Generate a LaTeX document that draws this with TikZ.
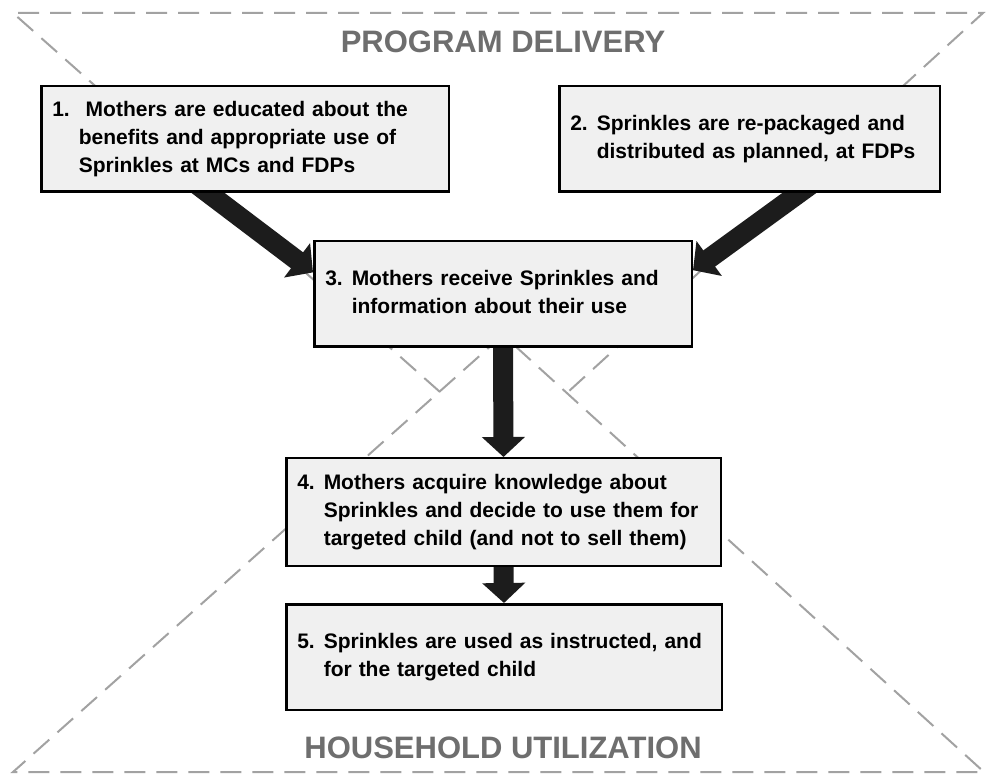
\documentclass[tikz,border=0pt]{standalone}
\usepackage{fontspec}
\setmainfont{Liberation Sans}
\usetikzlibrary{arrows.meta,calc,backgrounds}
\definecolor{boxfill}{HTML}{F0F0F0}
\definecolor{zonegray}{HTML}{A2A2A2}
\definecolor{labelgray}{HTML}{6E6E6E}
\definecolor{arrowblack}{HTML}{1C1C1C}
\newcommand{\steptext}[2]% number, lines
{\begin{tabular}{@{}l@{\hspace{9pt}}l@{}}#1 & #2\end{tabular}}
\tikzset{
	stepbox/.style={draw=black, line width=2.5pt, fill=boxfill, inner xsep=11pt, align=left,
		font=\bfseries\fontsize{21}{28}\selectfont},
	fatarrow/.style={arrowblack, line width=20pt, -{Triangle[width=42pt,length=20pt]}},
	zone/.style={zonegray, line width=2pt, dash pattern=on 21pt off 11pt},
	zonelabel/.style={labelgray, font=\bfseries\fontsize{31}{36}\selectfont}
}

\begin{document}
\begin{tikzpicture}[x=1pt,y=-1pt]
	\useasboundingbox (0,0) rectangle (986,775);
	\node[zonelabel] (pd) at (503,42){PROGRAM DELIVERY};
	\node[zonelabel] (hu) at (503,748){HOUSEHOLD UTILIZATION};
	\node[stepbox, text width=385.5pt, minimum height=105.5pt] (b1) at (245,139)
		{\steptext{1.}{\hspace{7pt}Mothers are educated about the\\ & benefits and appropriate use of\\ & Sprinkles at MCs and FDPs}};%1
	\node[stepbox, text width=358.5pt, minimum height=105.5pt] (b2) at (749.5,139)
		{\steptext{2.}{Sprinkles are re-packaged and\\ & distributed as planned, at FDPs}};%2
	\node[stepbox, text width=355.5pt, minimum height=105.5pt] (b3) at (503,294)
		{\steptext{3.}{Mothers receive Sprinkles and\\ & information about their use}};%3
	\node[stepbox, text width=412.5pt, minimum height=107.5pt] (b4) at (503.5,512)
		{\steptext{4.}{Mothers acquire knowledge about\\ & Sprinkles and decide to use them for\\ & targeted child (and not to sell them)}};%4
	\node[stepbox, text width=413.5pt, minimum height=105.5pt] (b5) at (504,657)
		{\steptext{5.}{Sprinkles are used as instructed, and\\ & for the targeted child}};%5
	\coordinate (s1) at ($(b1.south west)!0.41!(b1.south east)$);
	\coordinate (e1) at ($(b3.north west)!0.30!(b3.south west)$);
	\coordinate (s2) at ($(b2.south west)!0.63!(b2.south east)$);
	\coordinate (e2) at ($(b3.north east)!0.28!(b3.south east)$);
	% the two zones
	\coordinate (tl) at (13,13);
	\coordinate (tr) at (983,13);
	\coordinate (bl) at (13,772);
	\coordinate (br) at (984,772);
	\coordinate (xl) at (440,392);
	\coordinate (xr) at (568,392);
	\coordinate (ap) at (503,335);
	\begin{scope}[on background layer]
		\fill[white] (0,0) rectangle (986,775);
		\draw[zone] (xl) -- (tl) -- (tr) -- (xr);
		\draw[zone] (ap) -- (bl) -- (br) -- cycle;
		\draw[fatarrow] ($(s1)!-0.15!(e1)$) -- (e1);
		\draw[fatarrow] ($(s2)!-0.15!(e2)$) -- (e2);
		\draw[fatarrow] (b3.south) -- (b4.north);
		\draw[fatarrow] (b4.south) -- (b5.north);
	\end{scope}
\end{tikzpicture}
\end{document}
